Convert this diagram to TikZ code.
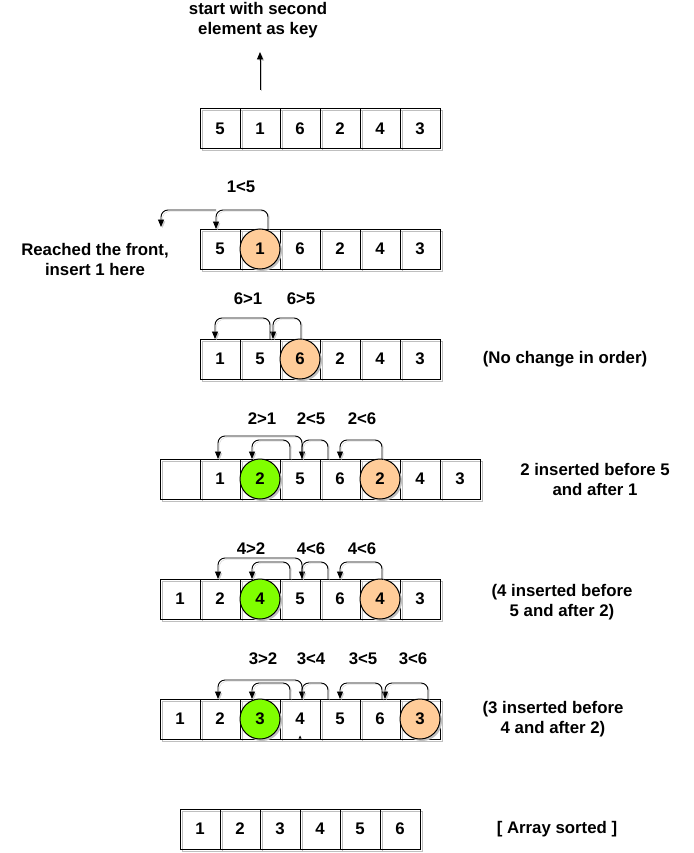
\documentclass[tikz,border=0pt]{standalone}
\usepackage{fontspec}
\setmainfont{Liberation Sans}
\usetikzlibrary{arrows.meta,shadows}

\definecolor{keyorange}{HTML}{FFCC99}
\definecolor{keygreen}{HTML}{80FF00}

\begin{document}
\begin{tikzpicture}[x=1pt,y=-1pt,
        font=\fontsize{16.8}{20}\selectfont\bfseries,
        cell/.style={draw, line width=1pt, minimum size=40pt, inner sep=0pt, outer sep=0pt,
            preaction={draw=black!25, line width=1pt, transform canvas={xshift=2pt,yshift=-2pt}}},
        key/.style={circle, draw, line width=1pt, minimum size=40pt, inner sep=0pt, outer sep=0pt, fill=#1,
            drop shadow={shadow xshift=2pt, shadow yshift=-2pt, fill=black!25, opacity=1}},
        arr/.style={-{Triangle[length=7.5pt,width=6pt]}, line width=0.9pt, rounded corners=7pt,
            preaction={draw=black!20, transform canvas={xshift=1.5pt,yshift=-1.5pt}}},
        txt/.style={align=center}]
        \useasboundingbox (0,0) rectangle (693,853);

        % start
        \foreach \v [count=\i] in {5,1,6,2,4,3}
            \node[cell] (a\i) at (180+40*\i,129) {\v};
        \node[txt] (keytxt) at (258,20) {start with second\\element as key};
        \coordinate (keytail) at (260,90);
        \coordinate (keytip) at (260,52);
        \draw[arr] (keytail) -- (keytip);

        % key 1
        \foreach \v [count=\i] in {5,{},6,2,4,3}
            \node[cell] (b\i) at (180+40*\i,249) {\v};
        \node[key=keyorange] (bkey) at (b2) {1};
        \coordinate (front) at (161,227);
        \draw[arr] ([xshift=8pt]bkey.north) -- ++(0,-19) -| ([xshift=-4pt]b1.north);
        \draw[arr] ([xshift=-4pt]b1.north) ++(0,-19) -| (front);
        \node[] (bcmp1) at (241,187) {1<5};
        \node[txt] (fronttxt) at (95,259) {Reached the front,\\insert 1 here};

        % key 6
        \foreach \v [count=\i] in {1,5,{},2,4,3}
            \node[cell] (c\i) at (180+40*\i,359) {\v};
        \node[key=keyorange] (ckey) at (c3) {6};
        \draw[arr] ([xshift=1pt]ckey.north) -- ++(0,-21) -| ([xshift=13pt]c2.north);
        \draw[arr] ([xshift=10pt]c2.north) -- ++(0,-21) -| ([xshift=-5pt]c1.north);
        \node[] (ccmp1) at (248,299) {6>1};
        \node[] (ccmp2) at (301,299) {6>5};
        \node[txt] (ctxt) at (565,359) {(No change in order)};

        % key 2
        \foreach \v [count=\i] in {{},1,{},5,6,{},4,3}
            \node[cell] (d\i) at (140+40*\i,479) {\v};
        \node[key=keygreen] (dput) at (d3) {2};
        \node[key=keyorange] (dkey) at (d6) {2};
        \draw[arr] ([xshift=2pt]dkey.north) -- ++(0,-19) -| (d5.north);
        \draw[arr] ([xshift=-12pt]d5.north) -- ++(0,-19) -| ([xshift=2pt]d4.north);
        \draw[arr] ([xshift=2pt]d4.north) -- ++(0,-23) -| ([xshift=-2pt]d2.north);
        \draw[arr] ([xshift=-10pt]d4.north) -- ++(0,-19) -| ([xshift=-8pt]dput.north);
        \node[] (dcmp1) at (262,419) {2>1};
        \node[] (dcmp2) at (311,419) {2<5};
        \node[] (dcmp3) at (362,419) {2<6};
        \node[txt] (dtxt) at (595,479) {2 inserted before 5\\and after 1};

        % key 4
        \foreach \v [count=\i] in {1,2,{},5,6,{},3}
            \node[cell] (e\i) at (140+40*\i,599) {\v};
        \node[key=keygreen] (eput) at (e3) {4};
        \node[key=keyorange] (ekey) at (e6) {4};
        \draw[arr] ([xshift=2pt]ekey.north) -- ++(0,-17) -| (e5.north);
        \draw[arr] ([xshift=-12pt]e5.north) -- ++(0,-17) -| ([xshift=2pt]e4.north);
        \draw[arr] ([xshift=2pt]e4.north) -- ++(0,-21) -| ([xshift=-2pt]e2.north);
        \draw[arr] ([xshift=-10pt]e4.north) -- ++(0,-17) -| ([xshift=-8pt]eput.north);
        \node[] (ecmp1) at (251,549) {4>2};
        \node[] (ecmp2) at (311,549) {4<6};
        \node[] (ecmp3) at (362,549) {4<6};
        \node[txt] (etxt) at (562,602) {(4 inserted before\\5 and after 2)};

        % key 3
        \foreach \v [count=\i] in {1,2,{},4,5,6,{}}
            \node[cell] (f\i) at (140+40*\i,719) {\v};
        \node[key=keygreen] (fput) at (f3) {3};
        \node[key=keyorange] (fkey) at (f7) {3};
        \draw[arr] ([xshift=8pt]fkey.north) -- ++(0,-16) -| ([xshift=5pt]f6.north);
        \draw[arr] ([xshift=2pt]f6.north) -- ++(0,-16) -| (f5.north);
        \draw[arr] ([xshift=-12pt]f5.north) -- ++(0,-16) -| ([xshift=2pt]f4.north);
        \draw[arr] ([xshift=2pt]f4.north) -- ++(0,-19) -| ([xshift=-2pt]f2.north);
        \draw[arr] ([xshift=-10pt]f4.north) -- ++(0,-16) -| ([xshift=-8pt]fput.north);
        \fill (298.5,738.5) -- (300,735.5) -- (301.5,738.5) -- cycle;
        \node[] (fcmp1) at (263,659) {3>2};
        \node[] (fcmp2) at (311,659) {3<4};
        \node[] (fcmp3) at (363,659) {3<5};
        \node[] (fcmp4) at (413,659) {3<6};
        \node[txt] (ftxt) at (553,719) {(3 inserted before\\4 and after 2)};

        % sorted
        \foreach \v [count=\i] in {1,2,3,4,5,6}
            \node[cell] (g\i) at (160+40*\i,829) {\v};
        \node[] (gtxt) at (557,829) {[ Array sorted ]};
\end{tikzpicture}
\end{document}
